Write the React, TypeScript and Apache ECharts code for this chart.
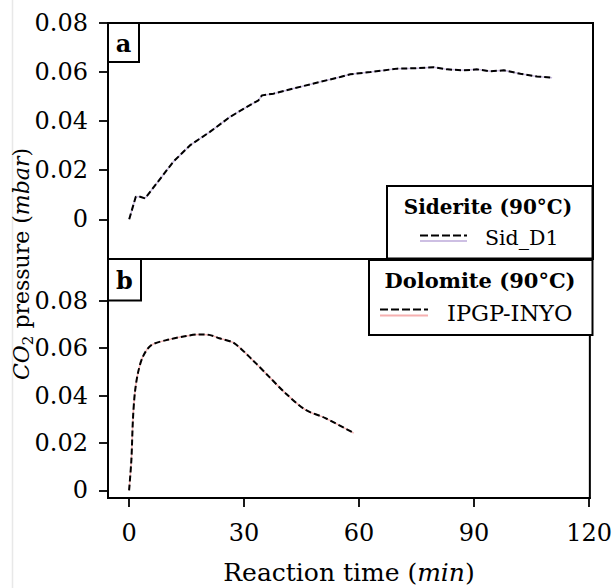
import React, { useEffect, useRef } from 'react';
import * as echarts from 'echarts';

// Panel a: Siderite (90°C), sample Sid_D1
const sidTime = [0, 1.7, 2.8, 4.1, 7.1, 11.4, 15.8, 20.9, 26.1, 30.5, 33.5, 34.4, 37.4, 42.6, 49.5, 54.7, 57.3, 62.5, 69.4, 74.6, 78.9, 82.4, 86.7, 90.2, 93.6, 97.1, 101.4, 105.7, 109.6];
const sidP = [0, 0.0092, 0.0092, 0.0085, 0.0146, 0.0234, 0.0302, 0.0356, 0.0417, 0.0458, 0.0485, 0.0505, 0.0512, 0.0533, 0.056, 0.058, 0.0591, 0.06, 0.0614, 0.0616, 0.062, 0.0611, 0.0607, 0.0611, 0.0603, 0.0607, 0.0593, 0.0582, 0.0577];

// Panel b: Dolomite (90°C), sample IPGP-INYO
const dolTime = [0, 0.6, 1.0, 1.5, 2.3, 3.6, 5.8, 10.6, 14.9, 18.3, 20.9, 23.5, 27.4, 32.2, 36.5, 40.8, 46.0, 51.2, 58.6];
const dolP = [0, 0.0129, 0.0298, 0.041, 0.0494, 0.0564, 0.0613, 0.0637, 0.0651, 0.0658, 0.0656, 0.0642, 0.0621, 0.055, 0.048, 0.041, 0.034, 0.0305, 0.0242];

const xTicks = [0, 30, 60, 90, 120];
const yTicks = [0, 0.02, 0.04, 0.06, 0.08];

const FONT = '"DejaVu Serif", "Liberation Serif", serif';

export default function App() {
  const ref = useRef<HTMLDivElement>(null);
  useEffect(() => {
    const chart = echarts.init(ref.current!, null, { renderer: 'svg' });
    const pair = (t: number[], v: number[]) => t.map((x, i) => [x, v[i]]);
    const fmtY = (v: number) => (Math.abs(v) < 1e-9 ? '0' : v.toFixed(2));

    const yAxisFor = (gi: number, min: number, max: number) => ({
      type: 'value',
      gridIndex: gi,
      min,
      max,
      axisLine: { show: true, onZero: false, lineStyle: { color: '#000', width: 2 } },
      axisTick: { show: true, inside: false, length: 9, customValues: yTicks, lineStyle: { color: '#000', width: 1.8 } },
      axisLabel: { show: true, customValues: yTicks, margin: 20, fontFamily: FONT, fontSize: 24, color: '#000', formatter: fmtY },
      splitLine: { show: false },
    });

    const gridBox = { show: true, borderColor: '#000', borderWidth: 2, backgroundColor: 'transparent' };

    const dashed = { color: '#000', width: 2, type: [6, 3] as any };

    chart.setOption({
      animation: false,
      backgroundColor: '#fff',
      grid: [
        { ...gridBox, left: 108, top: 23, width: 485, height: 236 },
        { ...gridBox, left: 108, top: 259, width: 485, height: 239 },
      ],
      xAxis: [
        { type: 'value', gridIndex: 0, min: -5.5, max: 120.2, show: false, splitLine: { show: false } },
        {
          type: 'value', gridIndex: 1, min: -5.5, max: 120.2,
          axisLine: { show: true, onZero: false, lineStyle: { color: '#000', width: 2 } },
          axisTick: { show: true, inside: false, length: 9, customValues: xTicks, lineStyle: { color: '#000', width: 1.8 } },
          axisLabel: { show: true, customValues: xTicks, margin: 23, fontFamily: FONT, fontSize: 24, color: '#000' },
          splitLine: { show: false },
        },
      ],
      yAxis: [yAxisFor(0, -0.0162, 0.08), yAxisFor(1, -0.0032, 0.0976)],
      series: [
        { type: 'line', name: 'Sid_D1 base', xAxisIndex: 0, yAxisIndex: 0, data: pair(sidTime, sidP), showSymbol: false, z: 2, lineStyle: { color: '#cdbfe3', width: 1.5 } },
        { type: 'line', name: 'Sid_D1', xAxisIndex: 0, yAxisIndex: 0, data: pair(sidTime, sidP), showSymbol: false, z: 3, lineStyle: dashed },
        { type: 'line', name: 'IPGP-INYO base', xAxisIndex: 1, yAxisIndex: 1, data: pair(dolTime, dolP), showSymbol: false, smooth: 0.3, z: 2, lineStyle: { color: '#f6b8b8', width: 1.5 } },
        { type: 'line', name: 'IPGP-INYO', xAxisIndex: 1, yAxisIndex: 1, data: pair(dolTime, dolP), showSymbol: false, smooth: 0.3, z: 3, lineStyle: dashed },
      ],
      graphic: [
        { type: 'line', z: 1, shape: { x1: 12.5, y1: 0, x2: 12.5, y2: 588 }, style: { stroke: '#e8e8e8', lineWidth: 1.5 } },
        { type: 'rect', z: 20, shape: { x: 108, y: 23, width: 31, height: 39 }, style: { fill: '#fff', stroke: '#000', lineWidth: 2 } },
        { type: 'text', z: 21, x: 123.5, y: 43, style: { text: 'a', fontFamily: FONT, fontWeight: 'bold', fontSize: 24, fill: '#000', align: 'center', verticalAlign: 'middle' } },
        { type: 'rect', z: 20, shape: { x: 108, y: 259, width: 33, height: 41.5 }, style: { fill: '#fff', stroke: '#000', lineWidth: 2 } },
        { type: 'text', z: 21, x: 124.5, y: 280, style: { text: 'b', fontFamily: FONT, fontWeight: 'bold', fontSize: 24, fill: '#000', align: 'center', verticalAlign: 'middle' } },
        { type: 'rect', z: 20, shape: { x: 387, y: 186, width: 205.5, height: 72.5 }, style: { fill: '#fff', stroke: '#000', lineWidth: 2 } },
        { type: 'text', z: 21, x: 488, y: 207, style: { text: 'Siderite (90°C)', fontFamily: FONT, fontWeight: 'bold', fontSize: 20, fill: '#000', align: 'center', verticalAlign: 'middle' } },
        { type: 'line', z: 21, shape: { x1: 420, y1: 241, x2: 467, y2: 241 }, style: { stroke: '#cdbfe3', lineWidth: 1.8 } },
        { type: 'line', z: 21, shape: { x1: 420, y1: 235.5, x2: 467, y2: 235.5 }, style: { stroke: '#000', lineWidth: 2.2, lineDash: [8, 3] } },
        { type: 'text', z: 21, x: 485, y: 238, style: { text: 'Sid_D1', fontFamily: FONT, fontSize: 20.5, fill: '#000', align: 'left', verticalAlign: 'middle' } },
        { type: 'rect', z: 20, shape: { x: 369, y: 260, width: 223.5, height: 75 }, style: { fill: '#fff', stroke: '#000', lineWidth: 2 } },
        { type: 'text', z: 21, x: 480, y: 280, style: { text: 'Dolomite (90°C)', fontFamily: FONT, fontWeight: 'bold', fontSize: 21, fill: '#000', align: 'center', verticalAlign: 'middle' } },
        { type: 'line', z: 21, shape: { x1: 380, y1: 315.5, x2: 428, y2: 315.5 }, style: { stroke: '#f6b0b0', lineWidth: 1.8 } },
        { type: 'line', z: 21, shape: { x1: 380, y1: 309.5, x2: 428, y2: 309.5 }, style: { stroke: '#000', lineWidth: 2.2, lineDash: [8, 3] } },
        { type: 'text', z: 21, x: 447, y: 313, style: { text: 'IPGP-INYO', fontFamily: FONT, fontSize: 22.5, fill: '#000', align: 'left', verticalAlign: 'middle' } },
        {
          type: 'text', z: 21, x: 349, y: 572,
          style: {
            text: '{r|Reaction time (}{i|min}{r|)}', fontFamily: FONT, fontSize: 25, fill: '#000', align: 'center', verticalAlign: 'middle',
            rich: {
              r: { fontFamily: FONT, fontSize: 25, fill: '#000' },
              i: { fontFamily: FONT, fontStyle: 'italic', fontSize: 25, fill: '#000' },
            },
          },
        },
        {
          type: 'text', z: 21, x: 21, y: 264, rotation: Math.PI / 2,
          style: {
            text: '{i|CO}{s|2}{r| pressure (}{i|mbar}{r|)}', fontFamily: FONT, fontSize: 22, fill: '#000', align: 'center', verticalAlign: 'middle', lineHeight: 28,
            rich: {
              r: { fontFamily: FONT, fontSize: 22, fill: '#000', lineHeight: 28 },
              i: { fontFamily: FONT, fontStyle: 'italic', fontSize: 22, fill: '#000', lineHeight: 28 },
              s: { fontFamily: FONT, fontSize: 15, fill: '#000', lineHeight: 15, verticalAlign: 'bottom' },
            },
          },
        },
      ],
    });
    return () => chart.dispose();
  }, []);
  return <div ref={ref} style={{ position: 'fixed', left: 0, top: 0, width: 615, height: 588 }} />;
}
